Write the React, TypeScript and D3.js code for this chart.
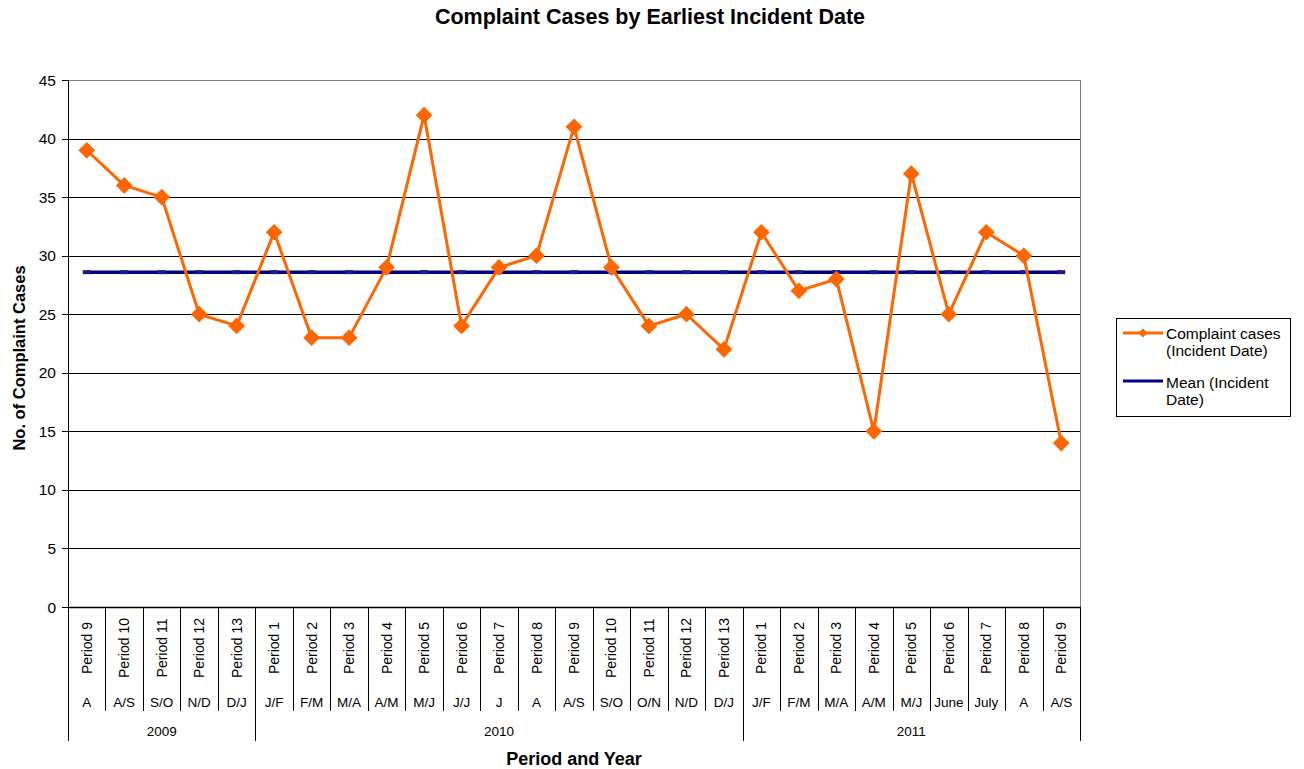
import React, { useEffect, useRef } from 'react';
import * as d3 from 'd3';

// chart data
const periods = ['Period 9', 'Period 10', 'Period 11', 'Period 12', 'Period 13',
  'Period 1', 'Period 2', 'Period 3', 'Period 4', 'Period 5', 'Period 6', 'Period 7', 'Period 8',
  'Period 9', 'Period 10', 'Period 11', 'Period 12', 'Period 13',
  'Period 1', 'Period 2', 'Period 3', 'Period 4', 'Period 5', 'Period 6', 'Period 7', 'Period 8', 'Period 9'];
const months = ['A', 'A/S', 'S/O', 'N/D', 'D/J',
  'J/F', 'F/M', 'M/A', 'A/M', 'M/J', 'J/J', 'J', 'A', 'A/S', 'S/O', 'O/N', 'N/D', 'D/J',
  'J/F', 'F/M', 'M/A', 'A/M', 'M/J', 'June', 'July', 'A', 'A/S'];
const years = [
  { label: '2009', count: 5 },
  { label: '2010', count: 13 },
  { label: '2011', count: 9 },
];
const complaints = [39, 36, 35, 25, 24, 32, 23, 23, 29, 42, 24, 29, 30, 41, 29, 24, 25, 22,
  32, 27, 28, 15, 37, 25, 32, 30, 14];
const yTicks = [0, 5, 10, 15, 20, 25, 30, 35, 40, 45];

const W = 1304, H = 769;
const font = 'Liberation Sans, Arial, sans-serif';

export default function App() {
  const ref = useRef<SVGSVGElement>(null);

  useEffect(() => {
    const svg = d3.select(ref.current);
    svg.selectAll('*').remove();

    const left = 68, right = 1080, top = 80, bottom = 607;

    const x = d3.scaleBand<number>().domain(d3.range(complaints.length)).range([left, right]);
    const y = d3.scaleLinear().domain([0, 45]).range([bottom, top]);
    const cx = (i: number) => (x(i) as number) + x.bandwidth() / 2;
    const mean = d3.mean(complaints) as number;

    svg.append('rect').attr('width', W).attr('height', H).attr('fill', '#fff');

    // title
    svg.append('text').text('Complaint Cases by Earliest Incident Date')
      .attr('x', 650).attr('y', 24).attr('text-anchor', 'middle')
      .attr('font-family', font).attr('font-size', 21.5).attr('font-weight', 'bold');

    // gridlines
    svg.append('g').selectAll('line').data(yTicks.filter(d => d > 0)).enter().append('line')
      .attr('x1', left).attr('x2', right)
      .attr('y1', d => Math.round(y(d)) + 0.5).attr('y2', d => Math.round(y(d)) + 0.5)
      .attr('stroke', d => d === 45 ? '#808080' : '#000').attr('stroke-width', 1);

    // plot border right
    svg.append('line').attr('x1', right + 0.5).attr('x2', right + 0.5).attr('y1', top).attr('y2', bottom)
      .attr('stroke', '#808080');

    // y axis
    const yAxis = svg.append('g');
    yAxis.append('line').attr('x1', left + 0.5).attr('x2', left + 0.5).attr('y1', top).attr('y2', 741)
      .attr('stroke', '#000');
    yAxis.selectAll('line.tk').data(yTicks).enter().append('line').attr('class', 'tk')
      .attr('x1', left - 6).attr('x2', left)
      .attr('y1', d => Math.round(y(d)) + 0.5).attr('y2', d => Math.round(y(d)) + 0.5)
      .attr('stroke', '#000');
    yAxis.selectAll('text').data(yTicks).enter().append('text')
      .text(d => d).attr('x', left - 12).attr('y', d => y(d) + 5.5)
      .attr('text-anchor', 'end').attr('font-family', font).attr('font-size', 15.5);

    svg.append('text').text('No. of Complaint Cases')
      .attr('transform', `translate(25,358) rotate(-90)`)
      .attr('text-anchor', 'middle').attr('font-family', font).attr('font-size', 16.5).attr('font-weight', 'bold');

    // x axis
    const xAxis = svg.append('g');
    xAxis.append('line').attr('x1', left).attr('x2', right + 1)
      .attr('y1', bottom + 0.5).attr('y2', bottom + 0.5).attr('stroke', '#000').attr('stroke-width', 1.5);

    // separators between categories
    const yearStarts: number[] = [];
    let acc = 0;
    years.forEach(yr => { yearStarts.push(acc); acc += yr.count; });
    xAxis.selectAll('line.sep').data(d3.range(1, complaints.length + 1)).enter().append('line')
      .attr('class', 'sep')
      .attr('x1', i => Math.round(i < complaints.length ? (x(i) as number) : right) + 0.5)
      .attr('x2', i => Math.round(i < complaints.length ? (x(i) as number) : right) + 0.5)
      .attr('y1', bottom)
      .attr('y2', i => (yearStarts.includes(i) || i === complaints.length) ? 741 : 711)
      .attr('stroke', '#000');

    xAxis.selectAll('text.per').data(periods).enter().append('text').attr('class', 'per')
      .text(d => d)
      .attr('transform', (d, i) => `translate(${cx(i) + 5},648) rotate(-90)`)
      .attr('text-anchor', 'middle').attr('font-family', font).attr('font-size', 14);

    xAxis.selectAll('text.mon').data(months).enter().append('text').attr('class', 'mon')
      .text(d => d).attr('x', (d, i) => cx(i)).attr('y', 707)
      .attr('text-anchor', 'middle').attr('font-family', font).attr('font-size', 13.5);

    xAxis.selectAll('text.yr').data(years).enter().append('text').attr('class', 'yr')
      .text(d => d.label)
      .attr('x', (d, k) => {
        const s = yearStarts[k];
        const e = s + d.count - 1;
        return ((x(s) as number) + (x(e) as number) + x.bandwidth()) / 2;
      })
      .attr('y', 736).attr('text-anchor', 'middle').attr('font-family', font).attr('font-size', 13.5);

    svg.append('text').text('Period and Year').attr('x', 574).attr('y', 765)
      .attr('text-anchor', 'middle').attr('font-family', font).attr('font-size', 18).attr('font-weight', 'bold');

    // mean line
    const meanData = complaints.map(() => mean);
    const line = d3.line<number>().x((d, i) => cx(i)).y(d => y(d));
    svg.append('path').datum(meanData).attr('d', line).attr('fill', 'none')
      .attr('stroke', '#000080').attr('stroke-width', 3.5);
    svg.append('g').selectAll('rect').data(meanData).enter().append('rect')
      .attr('x', (d, i) => cx(i) - 4).attr('y', d => y(d) - 2).attr('width', 8).attr('height', 4)
      .attr('fill', '#1a1a8c');

    // complaint series
    svg.append('path').datum(complaints).attr('d', line).attr('fill', 'none')
      .attr('stroke', '#ff6600').attr('stroke-width', 3).attr('stroke-linejoin', 'round');
    const diamond = d3.symbol().type(d3.symbolSquare).size(140);
    svg.append('g').selectAll('path').data(complaints).enter().append('path')
      .attr('d', diamond)
      .attr('transform', (d, i) => `translate(${cx(i)},${y(d)}) rotate(45)`)
      .attr('fill', '#ff6600');

    // legend
    const lg = svg.append('g');
    lg.append('rect').attr('x', 1116.5).attr('y', 318.5).attr('width', 174).attr('height', 98)
      .attr('fill', '#fff').attr('stroke', '#000');
    lg.append('line').attr('x1', 1123).attr('x2', 1163).attr('y1', 333).attr('y2', 333)
      .attr('stroke', '#ff6600').attr('stroke-width', 3);
    lg.append('path').attr('d', d3.symbol().type(d3.symbolSquare).size(40)())
      .attr('transform', 'translate(1143,333) rotate(45)').attr('fill', '#ff6600');
    lg.append('line').attr('x1', 1123).attr('x2', 1163).attr('y1', 381).attr('y2', 381)
      .attr('stroke', '#000080').attr('stroke-width', 3);
    const legendText = [
      { t: 'Complaint cases', y: 339 },
      { t: '(Incident Date)', y: 356 },
      { t: 'Mean (Incident', y: 388 },
      { t: 'Date)', y: 405 },
    ];
    lg.selectAll('text').data(legendText).enter().append('text')
      .text(d => d.t).attr('x', 1166).attr('y', d => d.y)
      .attr('font-family', font).attr('font-size', 15.5);
  }, []);

  return (
    <svg ref={ref} width={W} height={H} style={{ display: 'block', position: 'absolute', left: 0, top: 0 }} />
  );
}
